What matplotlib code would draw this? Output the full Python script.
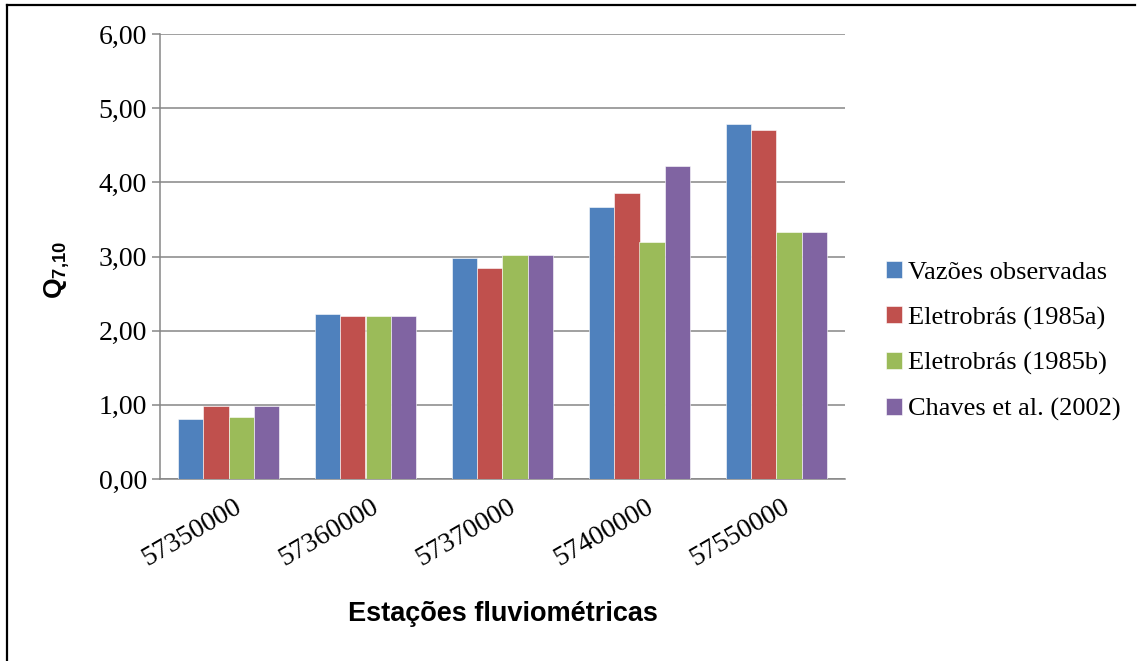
import matplotlib
matplotlib.use("Agg")
import matplotlib.pyplot as plt
import numpy as np
from matplotlib.lines import Line2D
from matplotlib.ticker import FuncFormatter

# data
stations = ["57350000", "57360000", "57370000", "57400000", "57550000"]
series_names = ["Vazões observadas", "Eletrobrás (1985a)",
                "Eletrobrás (1985b)", "Chaves et al. (2002)"]
observadas = [0.81, 2.22, 2.98, 3.67, 4.79]
eletrobras_a = [0.98, 2.20, 2.84, 3.86, 4.70]
eletrobras_b = [0.83, 2.20, 3.02, 3.19, 3.33]
chaves = [0.99, 2.20, 3.02, 4.22, 3.33]
colors = ["#4F81BD", "#C0504D", "#9BBB59", "#8064A2"]

plt.rcParams['mathtext.fontset'] = 'custom'
plt.rcParams['mathtext.bf'] = 'Liberation Sans:bold'
plt.rcParams['mathtext.rm'] = 'Liberation Sans:bold'

fig = plt.figure(figsize=(11.45, 6.61), dpi=100)
ax = fig.add_axes([160/1145, 1-479/661, 685/1145, 445/661])

x = np.arange(len(stations))
bw = 0.1825
for i, (vals, name) in enumerate(zip([observadas, eletrobras_a, eletrobras_b, chaves], series_names)):
    ax.bar(x + (i - 1.5)*bw, vals, width=bw, color=colors[i], label=name,
           edgecolor='white', linewidth=0.4, zorder=3)

ax.set_xlim(-0.5, len(stations) - 0.5)
ax.set_ylim(0, 6)
ax.set_yticks(np.arange(0, 6.01, 1))
ax.yaxis.set_major_formatter(FuncFormatter(lambda v, p: f"{v:.2f}".replace('.', ',')))
ax.grid(axis='y', color='#868686', lw=1.1, zorder=0)
for s in ['top', 'right']:
    ax.spines[s].set_visible(False)
for s in ['left', 'bottom']:
    ax.spines[s].set_color('#868686')
    ax.spines[s].set_linewidth(1.1)

ax.tick_params(axis='y', length=6, width=1.1, color='#868686', pad=3.5)
ax.tick_params(axis='x', length=0, pad=11)
for lab in ax.get_yticklabels():
    lab.set_fontfamily('Liberation Serif')
    lab.set_fontsize(20)
ax.set_xticks(x + 0.04)
ax.set_xticklabels(stations, rotation=30, ha='right', va='top',
                   rotation_mode='anchor', fontfamily='Liberation Serif', fontsize=20)

ax.set_ylabel(r'$\mathbf{Q}_{\mathbf{7{,}10}}$', fontsize=19)
ax.yaxis.set_label_coords(-0.128, 0.47)
ax.set_xlabel("Estações fluviométricas", fontfamily='Liberation Sans',
              fontweight='bold', fontsize=19.5)
ax.xaxis.set_label_coords(0.5, -0.275)

ax.legend(loc='center left', bbox_to_anchor=(886/1145, 1-341/661),
          bbox_transform=fig.transFigure, frameon=False, borderpad=0,
          borderaxespad=0, handlelength=0.62, handleheight=0.62,
          handletextpad=0.2, labelspacing=0.85,
          prop={'family': 'Liberation Serif', 'size': 19})

# outer frame
fig.add_artist(Line2D([7/1145, 1135/1145], [1-5/661, 1-5/661], color='black', lw=1.6))
fig.add_artist(Line2D([7/1145, 7/1145], [0, 1-5/661], color='black', lw=1.6))

fig.savefig("out.png", dpi=100)
